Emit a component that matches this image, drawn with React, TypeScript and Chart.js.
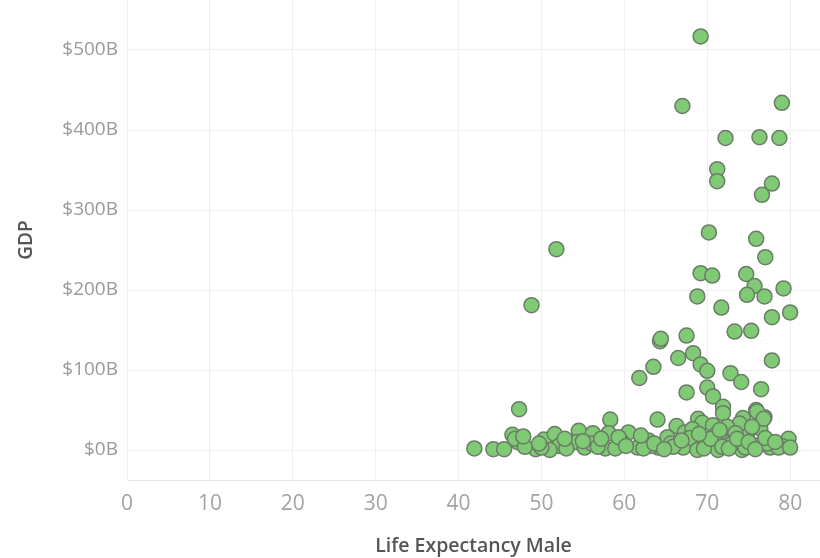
import React, { useEffect, useRef } from "react";
import { Chart, registerables } from "chart.js";

Chart.register(...registerables);

// Life expectancy (male, years) for each country
const lifeExpectancyMale: number[] = [
  69.2, 67.0, 79.0, 72.2, 76.3, 78.7, 71.2, 71.2, 77.8, 76.6,
  70.2, 75.9, 77.0, 51.8, 48.8, 69.2, 70.6, 74.7, 75.7, 74.8,
  76.9, 79.2, 68.8, 71.7, 77.8, 80.0, 73.3, 75.3, 64.3, 67.5,
  77.8, 66.5, 68.3, 69.2, 70.0, 63.5, 61.8, 72.8, 74.1, 76.5,
  67.5, 70.0, 70.7, 71.9, 71.9, 75.9, 76.9, 74.3, 64.0, 66.3,
  68.9, 69.4, 76.4, 74.8, 79.8, 60.5, 47.3, 64.4,
  41.9, 44.2, 45.5, 46.5, 47.1, 46.8, 49.3, 50.3, 51.6, 52.1,
  51.0, 53.6, 54.5, 54.2, 55.2, 56.2, 56.1, 57.7, 58.3, 58.1,
  59.7, 61.6, 62.9, 64.1, 65.2, 65.6, 66.4, 67.3, 67.1, 68.2,
  70.7, 73.9, 76.0, 76.8, 72.4, 75.4, 67.9, 70.0, 72.8, 76.2,
  79.0, 77.6, 78.6, 71.3, 74.2, 68.8, 73.4, 63.3, 65.9, 71.0,
  73.0, 74.6, 77.2, 48.0, 50.0, 53.0, 55.0, 56.8, 58.9, 59.3,
  60.2, 62.3, 63.6, 64.8, 66.9, 69.6, 70.4, 71.8, 72.6, 73.6,
  75.0, 75.8, 77.0, 78.2, 80.0, 69.0, 71.5, 62.0, 57.2, 52.8,
  47.8, 49.7,
];

// GDP in billions of US dollars, same order
const gdpBillions: number[] = [
  517, 430, 434, 390, 391, 390, 351, 336, 333, 319,
  272, 264, 241, 251, 181, 221, 218, 220, 205, 194,
  192, 202, 192, 178, 166, 172, 148, 149, 136, 143,
  112, 115, 121, 107, 99, 104, 90, 96, 85, 76,
  72, 78, 67, 54, 46, 50, 41, 40, 38, 30,
  39, 34, 27, 19, 14, 22, 51, 139,
  2, 1, 1, 19, 10, 14, 1, 13, 20, 5,
  0, 9, 24, 10, 3, 21, 8, 2, 38, 21,
  10, 3, 12, 3, 16, 8, 6, 22, 3, 26,
  31, 33, 48, 39, 29, 29, 15, 9, 10, 6,
  5, 3, 3, 0, 0, 0, 21, 5, 4, 19,
  8, 3, 8, 4, 3, 2, 11, 4, 2, 16,
  5, 2, 8, 1, 12, 2, 14, 4, 2, 14,
  10, 1, 15, 10, 3, 20, 25, 18, 14, 14,
  17, 8,
];

const xTickValues: number[] = [0, 10, 20, 30, 40, 50, 60, 70, 80];
const yTickValues: number[] = [0, 100, 200, 300, 400, 500];

const xTitle = "Life Expectancy Male";
const yTitle = "GDP";

export default function App() {
  const canvasRef = useRef<HTMLCanvasElement | null>(null);

  useEffect(() => {
    const canvas = canvasRef.current;
    if (!canvas) return;
    const points = lifeExpectancyMale.map((x, i) => ({ x, y: gdpBillions[i] }));
    const chart = new Chart(canvas, {
      type: "scatter",
      data: {
        datasets: [
          {
            data: points,
            backgroundColor: "#80c975",
            borderColor: "#6a7d66",
            borderWidth: 1.5,
            pointRadius: 7.5,
            pointHoverRadius: 7.5,
          },
        ],
      },
      options: {
        animation: false,
        responsive: true,
        maintainAspectRatio: false,
        layout: { padding: 0, autoPadding: false },
        plugins: {
          legend: { display: false },
          tooltip: { enabled: false },
        },
        scales: {
          x: {
            type: "linear",
            min: 0,
            max: 83.6,
            afterBuildTicks: (scale: any) => {
              scale.ticks = xTickValues.map((v) => ({ value: v }));
            },
            afterFit: (scale: any) => {
              scale.height = 78;
              scale.paddingLeft = 0;
              scale.paddingRight = 0;
            },
            grid: {
              color: "#efefef",
              lineWidth: 1,
              drawTicks: false,
            },
            border: { display: true, color: "#e4e4e4" },
            ticks: {
              color: "#a3a3a3",
              padding: 11,
              font: { family: "'Open Sans', sans-serif", size: 21 },
            },
            title: {
              display: true,
              text: xTitle,
              color: "#555555",
              padding: 0,
              font: { family: "'Open Sans', sans-serif", size: 19.5, weight: "600" },
            },
          },
          y: {
            type: "linear",
            min: -37.5,
            max: 562.5,
            afterBuildTicks: (scale: any) => {
              scale.ticks = yTickValues.map((v) => ({ value: v }));
            },
            afterFit: (scale: any) => {
              scale.width = 127;
              scale.paddingTop = 0;
              scale.paddingBottom = 0;
            },
            grid: {
              color: "#efefef",
              lineWidth: 1,
              drawTicks: false,
            },
            border: { display: true, color: "#eeeeee" },
            ticks: {
              color: "#999999",
              padding: 9,
              font: { family: "'Open Sans', sans-serif", size: 19 },
              callback: (v: any) => "$" + v + "B",
            },
            title: {
              display: true,
              text: yTitle,
              color: "#555555",
              padding: { top: 15, bottom: 0 },
              font: { family: "'Open Sans', sans-serif", size: 19, weight: "600" },
            },
          },
        },
      },
    } as any);
    return () => chart.destroy();
  }, []);

  return (
    <div style={{ position: "fixed", left: 0, top: 0, width: 820, height: 558, background: "#ffffff" }}>
      <canvas ref={canvasRef} />
    </div>
  );
}
